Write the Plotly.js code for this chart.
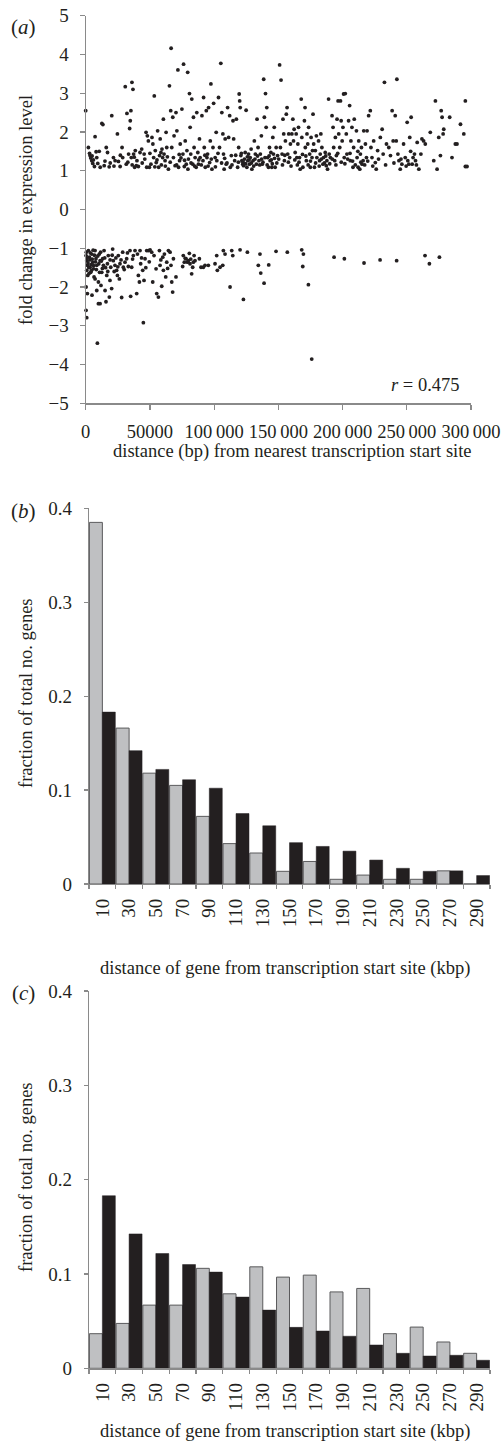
<!DOCTYPE html>
<html>
<head>
<meta charset="utf-8">
<script src="https://cdn.plot.ly/plotly-3.0.1.min.js"></script>
<style>html,body{margin:0;padding:0;background:#fff;}#chart{width:501px;height:1443px;}</style>
</head>
<body>
<div id="chart"></div>
<script>
// ---- Panel (a): up-regulated genes (distance in kbp, fold change) ----
const upDistKbp = [0,2.1,3.4,3.9,4.7,5.5,6.8,7.3,8.1,8.6,9.4,12.6,13.4,11.3,14.4,16,17,18.3,19.1,20.3,21.6,22.9,24.7,25.5,26.8,28.3,28.8,30.8,31.6,32.1,33.4,34.2,34.7,35.2,36,36.8,35.5,36.2,37.3,38.1,38.6,39.4,39.9,41,42.3,43.6,45.5,47,47.5,48,48.8,49.6,50.8,51.6,52.3,52.9,53.4,54.2,54.9,56,56.8,57.5,58,58.6,59.4,59.9,60.5,61,61.8,62.6,63.1,63.6,64.4,65.2,66.5,66.2,67,67.8,68.3,68.8,69.6,70.3,71,71.8,72.3,73.1,73.6,74.9,75.7,76.2,76.8,77.5,78.3,78.8,79.4,79.6,80.8,81.3,81.8,82.6,83.4,83.9,84.4,85.2,86,86.5,87.3,87.8,88.6,89.1,90.5,91.3,91.8,92.3,93.1,93.9,94.4,94.9,95.7,96.5,97,97.5,98.3,99.1,99.6,100.8,101.6,102.1,103.4,104.2,105.2,106,106.8,107.3,107.8,108.6,109.4,110.5,111.3,112.1,112.6,113.4,114.7,115.2,116,117.3,118.3,119.1,119.9,119.5,120.3,120.8,121.6,122.3,122.9,123.6,124.2,124.9,125.5,126.2,126.8,127.5,128.1,128.8,129.4,130.3,131.3,132.1,132.9,133.4,134.2,134.9,136,136.8,137.5,138.6,139.1,139.6,140,140.5,141,141.6,142.3,143.1,143.6,144.2,144.9,145.7,146.2,146.8,147.5,148.3,149.4,151,152.1,151.6,152.9,153.6,154.2,154.7,155.5,156.2,156.8,157.3,158.1,158.8,159.4,160.5,161.3,161.8,162.3,163.1,163.9,164.4,165.2,165.7,166.5,167,167.8,168.3,169.1,170.3,170.8,171,171.8,172.3,172.9,173.6,174.4,174.9,175.5,176.2,177,177.5,178.1,178.8,179.6,180,181.3,182.1,182.6,183.1,183.9,184.7,185.2,186.5,187.3,187.8,188.3,189.1,189.6,190.5,191.8,192.6,193.1,193.9,194.4,195.2,195.7,196.5,197,197.8,198.4,198.9,199.7,200.3,200.8,201.3,202.1,202.9,203.4,204.7,205.5,206,206.5,207.3,208.1,208.6,209.1,210.8,211.3,212.1,212.6,213.4,213.9,214.7,215.2,216,216.5,217.8,218.6,219.1,220.3,221.6,222.1,222.9,224.2,225.5,226.2,227.3,229.4,230.8,231.6,232.6,234.2,236,237.3,238.6,239.4,241,241.8,242.3,243.1,243.9,244.9,246.2,247.5,248.8,250.3,250.8,251.6,252.3,253.4,254.2,254.9,256,256.8,258.1,259.4,261,261.8,263.1,264.4,268.3,271,272.3,273.6,274.9,276.2,276.8,277.5,278.3,278.8,283.4,285.2,287.8,289.1,291.8,294.4,295.6,295.6,296.9,
3,5,6,10.5,15,22,27,32.8,37.8,44,46,50,53.8,55.5,58.9,62,65.8,70.8,72.8,74.2,77,80,82,84.8,88,90,92.8,95.3,97.8,101,103,105.8,108.2,110,113.9,116.8,118.9,121.2,122.6,124.5,125.9,127.2,129,130.8,131.8,133.8,135.5,137,138,141.3,142.8,144.5,145.3,147,148.8,150.3,153.2,155,157.8,159.9,162.8,164.8,166.1,168.8,171.4,173.2,175,176.6,179,181.8,183.5,185.9,186.9,190,192,194.8,196.2,199,201.8,204,205.8,207.8,209.9,211.9,214.2,217.2,219.6,223.5,228,233.5,240,245.5,249.5,253,257.5];
const upFold = [2.55,1.6,1.39,1.33,1.26,1.19,1.11,1.88,1.49,1.34,1.19,2.22,2.19,1.09,1.13,1.6,1.47,1.1,1.2,2.42,1.34,1.26,1.95,1.24,1.11,1.6,1.34,3.17,1.17,2.48,1.43,2.09,2.29,2.55,3.28,3.1,1.34,1.15,1.43,1.09,1.52,1.13,1.26,1.11,1.47,1.56,1.43,1.99,1.09,1.9,1.77,1.09,1.17,1.86,1.69,1.34,2.93,1.52,1.21,2.03,1.09,1.39,1.82,1.47,1.56,1.34,2.33,1.43,1.26,1.99,1.6,1.36,1.04,3.19,4.16,2.55,1.6,2.38,1.34,1.9,1.13,2.5,2.03,3.6,1.09,1.26,1.69,2.59,1.43,3.75,1.11,1.77,1.17,1.52,3.54,1.04,2.99,2.12,1.43,2.85,1.17,2.38,1.6,1.34,1.09,2.5,1.47,1.17,1.82,1.34,2.42,1.26,2.89,1.6,1.09,2.55,1.34,1.43,2.63,1.21,1.77,3.24,1.04,1.6,2.74,1.34,1.99,1.26,2.89,1.6,3.77,2.5,1.95,1.43,1.04,1.82,1.17,2.63,1.86,2.42,1.09,1.39,2.29,1.82,1.26,2.33,1.09,1.6,2.8,2.98,2.63,1.39,1.26,1.17,1.13,1.3,1.47,2.56,1.09,1.26,1.43,1.17,1.34,1.56,1.04,1.26,1.77,1.43,1.17,2.33,1.6,1.26,1.43,1.9,1.17,3.36,2.38,1.34,2.99,2.12,2.63,1.34,1.09,1.6,1.26,1.47,1.09,1.86,1.43,2.12,1.09,1.6,1.39,3.73,3.34,1.6,1.43,2.33,1.95,1.26,1.77,2.46,2.63,1.43,1.95,1.34,1.69,1.95,2.33,1.77,2.07,1.47,1.95,1.34,1.69,2.12,1.34,1.04,2.85,1.86,1.09,2.29,2.63,1.6,1.26,1.95,1.69,2.12,1.43,1.09,1.86,1.34,2.46,1.69,1.09,1.52,1.9,1.34,1.77,1.26,1.43,1.95,1.6,1.17,1.34,1.47,1.13,1.26,1.04,2.85,1.43,1.34,2.42,2.12,1.6,1.26,1.86,1.39,2.33,2.8,1.95,1.6,2.8,2.29,1.77,2.12,2.98,1.34,2.99,1.95,1.43,2.29,2.68,1.26,1.77,2.12,1.09,1.6,2.33,2.03,1.34,1.09,1.77,1.04,1.43,1.6,1.17,1.26,2.03,1.69,1.34,2.03,2.42,2.55,1.6,1.34,1.77,1.21,1.04,1.52,1.86,2.07,1.43,3.28,1.69,1.6,1.39,2.55,1.77,2.42,1.77,3.36,1.43,1.26,1.04,1.17,1.69,1.34,2.25,1.26,1.17,1.86,2.38,1.17,1.34,1.43,1.26,1.73,1.04,1.43,1.82,1.77,1.69,1.99,1.26,2.8,1.04,1.86,1.39,2.55,2.38,1.95,2.07,2.38,1.34,1.69,1.69,2.2,1.95,2.8,1.11,1.11,
1.45,1.38,1.28,1.5,1.25,1.12,1.4,1.22,1.35,1.2,1.3,1.45,1.1,1.28,1.15,1.12,1.22,1.15,1.42,1.33,1.27,1.3,1.2,1.12,1.28,1.15,1.4,1.12,1.3,1.1,1.45,1.2,1.32,1.2,1.15,1.4,1.22,1.45,1.22,1.18,1.36,1.28,1.2,1.12,1.3,1.38,1.15,1.3,1.22,1.15,1.38,1.28,1.18,1.32,1.2,1.3,1.15,1.4,1.22,1.12,1.28,1.15,1.22,1.42,1.38,1.15,1.25,1.52,1.2,1.12,1.3,1.2,1.38,1.18,1.3,1.15,1.45,1.22,1.18,1.3,1.45,1.25,1.15,1.5,1.22,1.15,1.25,1.12,1.3,1.15,1.2,1.3,1.12,1.5,1.15];

// ---- Panel (a): down-regulated genes ----
const downDistKbp = [0.3,0.8,1.3,0.8,1.6,0.3,1.3,0.3,0.8,2.1,2.9,3.4,3.9,4.7,5.5,6.0,6.5,7.3,8.0,8.6,9.1,9.9,10.6,11.2,4.9,7.3,8.6,9.9,11.2,11.9,12.5,13.2,13.8,14.3,15.1,15.8,16.4,16.9,17.6,18.4,18.9,19.5,20.2,21.0,21.5,22.8,24.1,24.7,25.4,26.2,26.7,28.0,28.8,29.3,30.6,31.9,33.2,34.5,35.0,35.8,37.1,38.4,39.7,41.0,41.8,42.3,42.8,44.4,44.9,45.4,46.2,47.5,48.8,50.1,51.4,52.2,53.2,54.8,55.3,56.6,57.4,57.9,59.2,60.0,60.5,61.3,62.3,63.1,64.4,65.7,66.4,67.0,67.7,68.3,70.3,75.5,76.0,76.8,78.1,79.2,79.9,80.7,81.2,82.5,83.3,84.4,85.1,88.5,89.8,91.6,92.9,95.5,100.7,102.0,102.5,104.6,106.7,107.2,108.5,112.4,113.7,114.5,120.2,122.8,125.9,134.4,135.7,136.3,138.9,142.5,148.2,157.0,168.2,169.5,169.0,173.4,176.0,193.4,201.4,216.7,229.2,242.1,264.2,267.6,275.4,
0.5,1,1.8,2.4,2.6,3.2,3.6,4.2,4.4,5.1,5.8,6.2,6.8,7.6,8.3,9.4,10.2,10.8,11.6,12.2,13,14.8,15.5,17.2,19,20.6,22.2,23.5,25,27.5,30,32.5,36.5,40.3,43.5,46.8,49.5,58.5,63.8,77.5,81.8,83.8];
const downFold = [-1.19,-1.32,-1.44,-1.57,-1.7,-2.0,-2.17,-2.6,-2.79,-1.06,-1.23,-1.49,-1.62,-1.15,-1.36,-1.53,-1.74,-1.06,-1.27,-1.44,-3.45,-1.87,-1.15,-1.32,-2.21,-1.79,-2.09,-2.43,-2.43,-1.96,-1.62,-1.27,-1.44,-1.06,-2.09,-2.38,-1.7,-1.4,-1.19,-2.26,-1.83,-1.49,-2.04,-1.02,-1.32,-1.44,-1.57,-1.7,-1.19,-1.79,-1.4,-2.27,-1.1,-1.49,-1.36,-1.27,-1.47,-1.06,-2.24,-1.49,-1.19,-1.06,-2.17,-1.7,-1.87,-1.06,-1.4,-1.57,-2.92,-1.83,-1.27,-1.06,-1.06,-1.04,-1.1,-1.87,-1.19,-1.53,-2.17,-2.26,-1.06,-1.44,-1.98,-1.23,-1.57,-1.15,-1.74,-1.36,-1.06,-1.1,-1.44,-1.87,-2.13,-1.27,-1.74,-1.47,-1.19,-1.36,-1.27,-1.36,-1.32,-1.13,-1.4,-1.66,-1.49,-1.19,-1.32,-1.27,-1.49,-1.49,-1.44,-1.44,-1.4,-1.19,-1.57,-1.49,-1.44,-1.06,-1.15,-2.0,-1.06,-1.19,-1.04,-2.32,-1.1,-1.44,-1.15,-1.64,-1.9,-1.43,-1.08,-1.1,-1.04,-1.15,-1.47,-1.94,-3.86,-1.23,-1.27,-1.38,-1.3,-1.32,-1.19,-1.4,-1.23,
-1.1,-1.25,-1.38,-1.5,-1.65,-1.3,-1.12,-1.42,-1.58,-1.28,-1.05,-1.45,-1.18,-1.35,-1.55,-1.2,-1.4,-1.62,-1.1,-1.33,-1.52,-1.25,-1.5,-1.6,-1.3,-1.18,-1.6,-1.25,-1.48,-1.3,-1.55,-1.12,-1.28,-1.15,-1.25,-1.5,-1.35,-1.3,-1.52,-1.26,-1.28,-1.36];

const xTickVals = [0, 50000, 100000, 150000, 200000, 250000, 300000];
const xTickText = ["0", "50000", "100\u2009000", "150\u2009000", "200\u2009000", "250\u2009000", "300\u2009000"];
const yTickValsA = [-5,-4,-3,-2,-1,0,1,2,3,4,5];

// ---- Panels (b) and (c): histograms, 20 kbp bins ----
const binLabels = ["10","30","50","70","90","110","130","150","170","190","210","230","250","270","290"];
const bGrey  = [0.385,0.166,0.118,0.105,0.072,0.043,0.033,0.0135,0.024,0.005,0.0095,0.005,0.005,0.014,0];
const bBlack = [0.183,0.142,0.122,0.111,0.102,0.075,0.062,0.044,0.040,0.035,0.0255,0.0167,0.0135,0.014,0.009];
const cGrey  = [0.0367,0.0476,0.067,0.067,0.106,0.079,0.1076,0.0967,0.0988,0.081,0.0847,0.0367,0.0437,0.0279,0.0159];
const cBlack = [0.183,0.1425,0.1217,0.110,0.102,0.0755,0.0617,0.0434,0.0395,0.034,0.0247,0.0159,0.013,0.0138,0.0085];
const fracTickVals = [0, 0.1, 0.2, 0.3, 0.4];
const fracTickText = ["0", "0.1", "0.2", "0.3", "0.4"];

const W = 501, H = 1443;
const px = v => v / W;
const py = v => 1 - v / H;
const FONT = "'Liberation Serif', 'Times New Roman', Times, serif";
const TXT = "#231f20";
const AX = "#8a8a8a";

const traces = [
  { type: "scatter", mode: "markers", x: upDistKbp.map(v => v * 1000), y: upFold,
    marker: { color: TXT, size: 3.8 }, xaxis: "x", yaxis: "y", cliponaxis: false, hoverinfo: "skip" },
  { type: "scatter", mode: "markers", x: downDistKbp.map(v => v * 1000), y: downFold,
    marker: { color: TXT, size: 3.8 }, xaxis: "x", yaxis: "y", cliponaxis: false, hoverinfo: "skip" },
  { type: "bar", x: binLabels, y: bGrey, xaxis: "x2", yaxis: "y2",
    marker: { color: "#bfc0c2", line: { color: "#5a5a5c", width: 1 } } },
  { type: "bar", x: binLabels, y: bBlack, xaxis: "x2", yaxis: "y2",
    marker: { color: "#231f20", line: { color: "#231f20", width: 0.5 } } },
  { type: "bar", x: binLabels, y: cGrey, xaxis: "x3", yaxis: "y3",
    marker: { color: "#bfc0c2", line: { color: "#5a5a5c", width: 1 } } },
  { type: "bar", x: binLabels, y: cBlack, xaxis: "x3", yaxis: "y3",
    marker: { color: "#231f20", line: { color: "#231f20", width: 0.5 } } }
];

const tickFont = { family: FONT, size: 19, color: TXT };
const baseAxis = {
  showgrid: false, zeroline: false, showline: true, linecolor: AX, linewidth: 1.2,
  ticks: "outside", tickcolor: AX, tickwidth: 1.2, tickfont: tickFont, fixedrange: true
};

const barX = (dom, anchor) => Object.assign({}, baseAxis, {
  domain: dom, anchor: anchor, type: "category", categoryorder: "array", categoryarray: binLabels,
  tickson: "boundaries", ticklen: 4, tickangle: -90, ticklabelstandoff: 6
});
const barY = (dom, anchor) => Object.assign({}, baseAxis, {
  domain: dom, anchor: anchor, range: [0, 0.4], tickvals: fracTickVals, ticktext: fracTickText,
  ticklen: 4, ticklabelstandoff: 8
});

const ann = (text, x, y, opts) => Object.assign({
  text: text, xref: "paper", yref: "paper", x: px(x), y: py(y), showarrow: false,
  xanchor: "center", yanchor: "middle", font: { family: FONT, size: 18.5, color: TXT }
}, opts || {});
const panelFont = { family: FONT, size: 21, color: TXT };

const layout = {
  width: W, height: H, margin: { l: 0, r: 0, t: 0, b: 0 },
  paper_bgcolor: "#fff", plot_bgcolor: "#fff", showlegend: false,
  barmode: "group", bargap: 0.03, bargroupgap: 0,
  xaxis: Object.assign({}, baseAxis, {
    domain: [px(85.7), px(471)], anchor: "y", range: [0, 300000],
    tickvals: xTickVals, ticktext: xTickText, ticklen: 5, ticklabelstandoff: 6,
    ticklabeloverflow: "allow", tickfont: { family: FONT, size: 18.5, color: TXT }
  }),
  yaxis: Object.assign({}, baseAxis, {
    domain: [py(403.3), py(15.7)], anchor: "x", range: [-5, 5],
    tickvals: yTickValsA, ticklen: 5, ticklabelstandoff: 7
  }),
  xaxis2: barX([px(89), px(490)], "y2"),
  yaxis2: barY([py(884), py(508.3)], "x2"),
  xaxis3: barX([px(89), px(490)], "y3"),
  yaxis3: barY([py(1368.3), py(991.1)], "x3"),
  annotations: [
    ann("(<i>a</i>)", 23, 27, { font: panelFont }),
    ann("(<i>b</i>)", 23, 511, { font: panelFont }),
    ann("(<i>c</i>)", 23, 993, { font: panelFont }),
    ann("fold change in expression level", 26, 210, { textangle: -90 }),
    ann("fraction of total no. genes", 26, 693, { textangle: -90 }),
    ann("fraction of total no. genes", 26, 1177, { textangle: -90 }),
    ann("distance (bp) from nearest transcription start site", 292, 451),
    ann("distance of gene from transcription start site (kbp)", 285, 968),
    ann("distance of gene from transcription start site (kbp)", 285, 1431),
    ann("<i>r</i> = 0.475", 462, 385, { xanchor: "right", font: { family: FONT, size: 18.5, color: TXT } })
  ]
};

Plotly.newPlot("chart", traces, layout, { staticPlot: true, displayModeBar: false });
</script>
</body>
</html>
